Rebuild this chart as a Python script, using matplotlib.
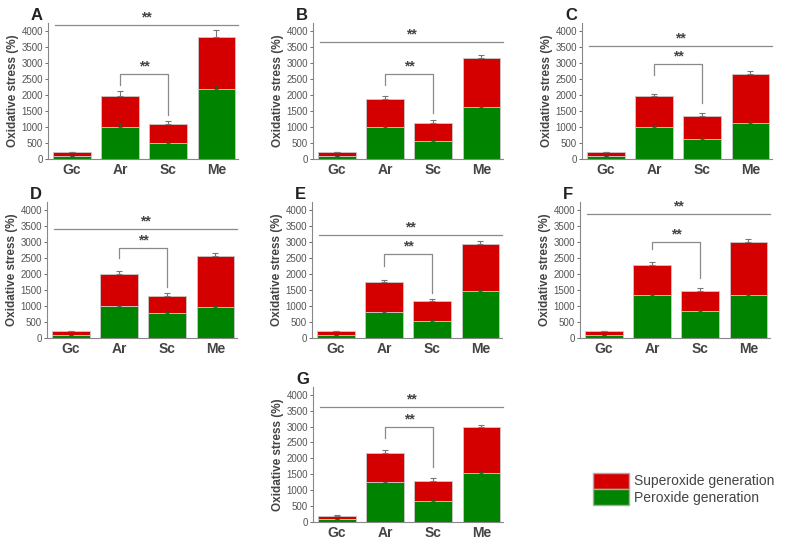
import numpy as np
import matplotlib
matplotlib.use('Agg')
import matplotlib.pyplot as plt
from matplotlib.patches import Patch

plt.rcParams['font.family'] = ['Liberation Sans', 'DejaVu Sans']

groups = ['Gc', 'Ar', 'Sc', 'Me']
panels = ['A', 'B', 'C', 'D', 'E', 'F', 'G']

# peroxide (green, bottom) and total height (top of red) per panel
peroxide = {
    'A': [90, 1000, 500, 2180],
    'B': [90, 1000, 550, 1620],
    'C': [90, 980, 620, 1120],
    'D': [90, 980, 770, 950],
    'E': [90, 800, 530, 1450],
    'F': [90, 1350, 840, 1350],
    'G': [90, 1250, 660, 1530],
}
total = {
    'A': [200, 1950, 1080, 3800],
    'B': [200, 1880, 1120, 3150],
    'C': [200, 1960, 1350, 2650],
    'D': [200, 1980, 1320, 2560],
    'E': [200, 1740, 1140, 2930],
    'F': [200, 2280, 1450, 2990],
    'G': [200, 2170, 1300, 2970],
}
# top of error bar
err_top = {
    'A': [215, 2130, 1180, 4020],
    'B': [215, 1970, 1220, 3250],
    'C': [215, 2030, 1440, 2760],
    'D': [215, 2080, 1390, 2650],
    'E': [215, 1810, 1210, 3020],
    'F': [215, 2370, 1550, 3080],
    'G': [215, 2260, 1400, 3040],
}
# significance marks: long line height, bracket top, left leg end, right leg end
long_line = {'A': 4190, 'B': 3650, 'C': 3530, 'D': 3400, 'E': 3220, 'F': 3860, 'G': 3610}
bracket = {
    'A': (2650, 2300, 1370),
    'B': (2650, 2300, 1430),
    'C': (2960, 2620, 1740),
    'D': (2800, 2490, 1600),
    'E': (2610, 2260, 1390),
    'F': (2990, 2780, 1880),
    'G': (2975, 2640, 1730),
}

# axes positions in figure pixels (left, zero line y from top)
W, H = 800, 545
pos = {
    'A': (48, 158.7), 'B': (313, 158.7), 'C': (582, 158.7),
    'D': (47, 337.7), 'E': (312, 337.7), 'F': (580, 337.7),
    'G': (313, 522.3),
}
ax_w = 190
ymax = 4250
ax_h = 127.7 * ymax / 4000

red = '#d40000'
green = '#008400'
line_gray = '#8a8a8a'

fig = plt.figure(figsize=(W / 100, H / 100), dpi=100)

for p in panels:
    left, zero_y = pos[p]
    ax = fig.add_axes([left / W, (H - zero_y) / H, ax_w / W, ax_h / H])
    x = np.arange(len(groups))
    g = np.array(peroxide[p])
    t = np.array(total[p])
    e = np.array(err_top[p])
    ax.bar(x, g, width=0.78, color=green, edgecolor='#c8c8c8', linewidth=0.6, zorder=2)
    ax.bar(x, t - g, bottom=g, width=0.78, color=red, edgecolor='#c8c8c8', linewidth=0.6, zorder=2)
    ax.errorbar(x, t, yerr=[np.zeros(4), e - t], fmt='none', ecolor='#777777',
                elinewidth=0.8, capsize=2, capthick=0.8, zorder=3)
    ax.errorbar(x, g, yerr=[np.zeros(4), (e - t) * 0.5], fmt='none', ecolor='#335533',
                elinewidth=0.6, capsize=1.5, capthick=0.6, zorder=3)

    # long significance line across groups
    yl = long_line[p]
    ax.plot([-0.35, 3.45], [yl, yl], color=line_gray, lw=0.9, clip_on=False, zorder=4)
    ax.text(1.55, yl + 20, '**', ha='center', va='bottom', fontsize=10,
            color='#444444', fontweight='bold', clip_on=False)

    # Ar vs Sc bracket
    top, lft, rgt = bracket[p]
    ax.plot([1, 1, 2, 2], [lft, top, top, rgt], color=line_gray, lw=0.9, zorder=4)
    ax.text(1.5, top + 20, '**', ha='center', va='bottom', fontsize=10,
            color='#444444', fontweight='bold')

    ax.set_xlim(-0.5, 3.45)
    ax.set_ylim(0, ymax)
    ax.set_yticks(np.arange(0, 4001, 500))
    ax.set_xticks(x)
    ax.set_xticklabels(groups, fontsize=10, fontweight='bold', color='#444444')
    ax.tick_params(axis='y', labelsize=7, colors='#555555', length=2, width=0.6, pad=1.5)
    ax.tick_params(axis='x', length=0, pad=3)
    ax.set_ylabel('Oxidative stress (%)', fontsize=8.5, fontweight='bold', color='#444444', labelpad=2)
    for s in ['top', 'right']:
        ax.spines[s].set_visible(False)
    for s in ['left', 'bottom']:
        ax.spines[s].set_color('#888888')
        ax.spines[s].set_linewidth(0.8)

    fig.text((left - 17) / W, 1 - (zero_y - 143) / H, p, fontsize=12, fontweight='bold',
             color='#222222', ha='left', va='center')

handles = [Patch(facecolor=red, edgecolor='#aaaaaa', label='Superoxide generation'),
           Patch(facecolor=green, edgecolor='#aaaaaa', label='Peroxide generation')]
fig.legend(handles=handles, loc='upper left', bbox_to_anchor=(580 / W, 1 - 460 / H),
           frameon=False, fontsize=10, handlelength=2.6, handleheight=1.4,
           handletextpad=0.4, labelspacing=0.05, labelcolor='#444444')

fig.savefig('out.png', dpi=100)
